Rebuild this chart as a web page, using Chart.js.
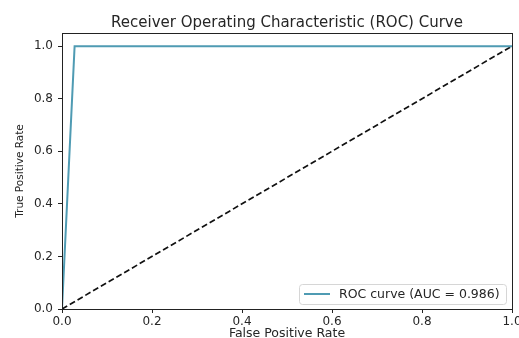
<!DOCTYPE html>
<html>
<head>
<meta charset="utf-8">
<script src="https://cdn.jsdelivr.net/npm/chart.js@4"></script>
<style>
  html, body { margin: 0; padding: 0; background: #fff; overflow: hidden; }
  #wrap { width: 530px; height: 341px; }
</style>
</head>
<body>
<div id="wrap"><canvas id="roc"></canvas></div>
<script>
// ROC curve points (false positive rate, true positive rate)
const fprValues = [0.0, 0.028, 1.0];
const tprValues = [0.0, 1.0, 1.0];
// chance line
const chanceX = [0.0, 1.0];
const chanceY = [0.0, 1.0];
const tickValues = [0.0, 0.2, 0.4, 0.6, 0.8, 1.0];
const rocLabel = 'ROC curve (AUC = 0.986)';
const titleText = 'Receiver Operating Characteristic (ROC) Curve';

const TEXT = '#262626';
const FONT = "'DejaVu Sans', sans-serif";

// frame, title and legend box in the matplotlib way
const mplFrame = {
    id: 'mplFrame',
    afterDraw(chart) {
        const a = chart.chartArea;
        const ctx = chart.ctx;
        ctx.save();
        ctx.strokeStyle = '#222';
        ctx.lineWidth = 1;
        ctx.strokeRect(a.left + 0.5, a.top + 0.5, a.right - a.left, a.bottom - a.top);

        ctx.fillStyle = TEXT;
        ctx.font = "15px " + FONT;
        ctx.textAlign = 'center';
        ctx.textBaseline = 'alphabetic';
        ctx.fillText(titleText, (a.left + a.right) / 2, 27);

        // legend
        const bx = 299, by = 284, bw = 207, bh = 20;
        ctx.fillStyle = 'rgba(255,255,255,0.8)';
        ctx.strokeStyle = '#d6d6d6';
        ctx.beginPath();
        ctx.roundRect(bx + 0.5, by + 0.5, bw, bh, 3);
        ctx.fill();
        ctx.stroke();
        ctx.strokeStyle = chart.data.datasets[0].borderColor;
        ctx.lineWidth = 2;
        ctx.beginPath();
        ctx.moveTo(bx + 5, by + 10);
        ctx.lineTo(bx + 31, by + 10);
        ctx.stroke();
        ctx.fillStyle = TEXT;
        ctx.font = "12.5px " + FONT;
        ctx.textAlign = 'left';
        ctx.textBaseline = 'middle';
        ctx.fillText(chart.data.datasets[0].label, bx + 40, by + 10.5);
        ctx.restore();
    }
};

new Chart(document.getElementById('roc'), {
    type: 'scatter',
    data: {
        datasets: [{
            label: rocLabel,
            data: fprValues.map((x, i) => ({x: x, y: tprValues[i]})),
            showLine: true,
            borderColor: '#4f9bb3',
            borderWidth: 2,
            pointRadius: 0,
            tension: 0
        }, {
            label: 'chance',
            data: chanceX.map((x, i) => ({x: x, y: chanceY[i]})),
            showLine: true,
            borderColor: '#111',
            borderWidth: 1.7,
            borderDash: [6, 3],
            pointRadius: 0
        }]
    },
    options: {
        responsive: true,
        maintainAspectRatio: false,
        animation: false,
        layout: { padding: { top: 33, right: 18, left: 0, bottom: 0 } },
        plugins: {
            legend: { display: false },
            tooltip: { enabled: false }
        },
        scales: {
            x: {
                type: 'linear',
                min: 0, max: 1,
                afterBuildTicks: (s) => { s.ticks = tickValues.map(v => ({value: v})); },
                afterFit: (s) => { s.height = 32; },
                grid: { display: true, drawOnChartArea: false, drawTicks: true, tickLength: 4, color: '#222' },
                border: { color: '#222' },
                ticks: { color: TEXT, font: { family: FONT, size: 12 }, padding: 2,
                         callback: (v) => v.toFixed(1) },
                title: { display: true, text: 'False Positive Rate', color: TEXT,
                         font: { family: FONT, size: 12.5 }, padding: 0 }
            },
            y: {
                type: 'linear',
                min: 0, max: 1.05,
                afterBuildTicks: (s) => { s.ticks = tickValues.map(v => ({value: v})); },
                afterFit: (s) => { s.width = 62; },
                grid: { display: true, drawOnChartArea: false, drawTicks: true, tickLength: 4, color: '#222' },
                border: { color: '#222' },
                ticks: { color: TEXT, font: { family: FONT, size: 12 }, padding: 5,
                         callback: (v) => v.toFixed(1) },
                title: { display: true, text: 'True Positive Rate', color: TEXT,
                         font: { family: FONT, size: 10.5 }, padding: { top: 14, bottom: 0 } }
            }
        }
    },
    plugins: [mplFrame]
});
</script>
</body>
</html>
